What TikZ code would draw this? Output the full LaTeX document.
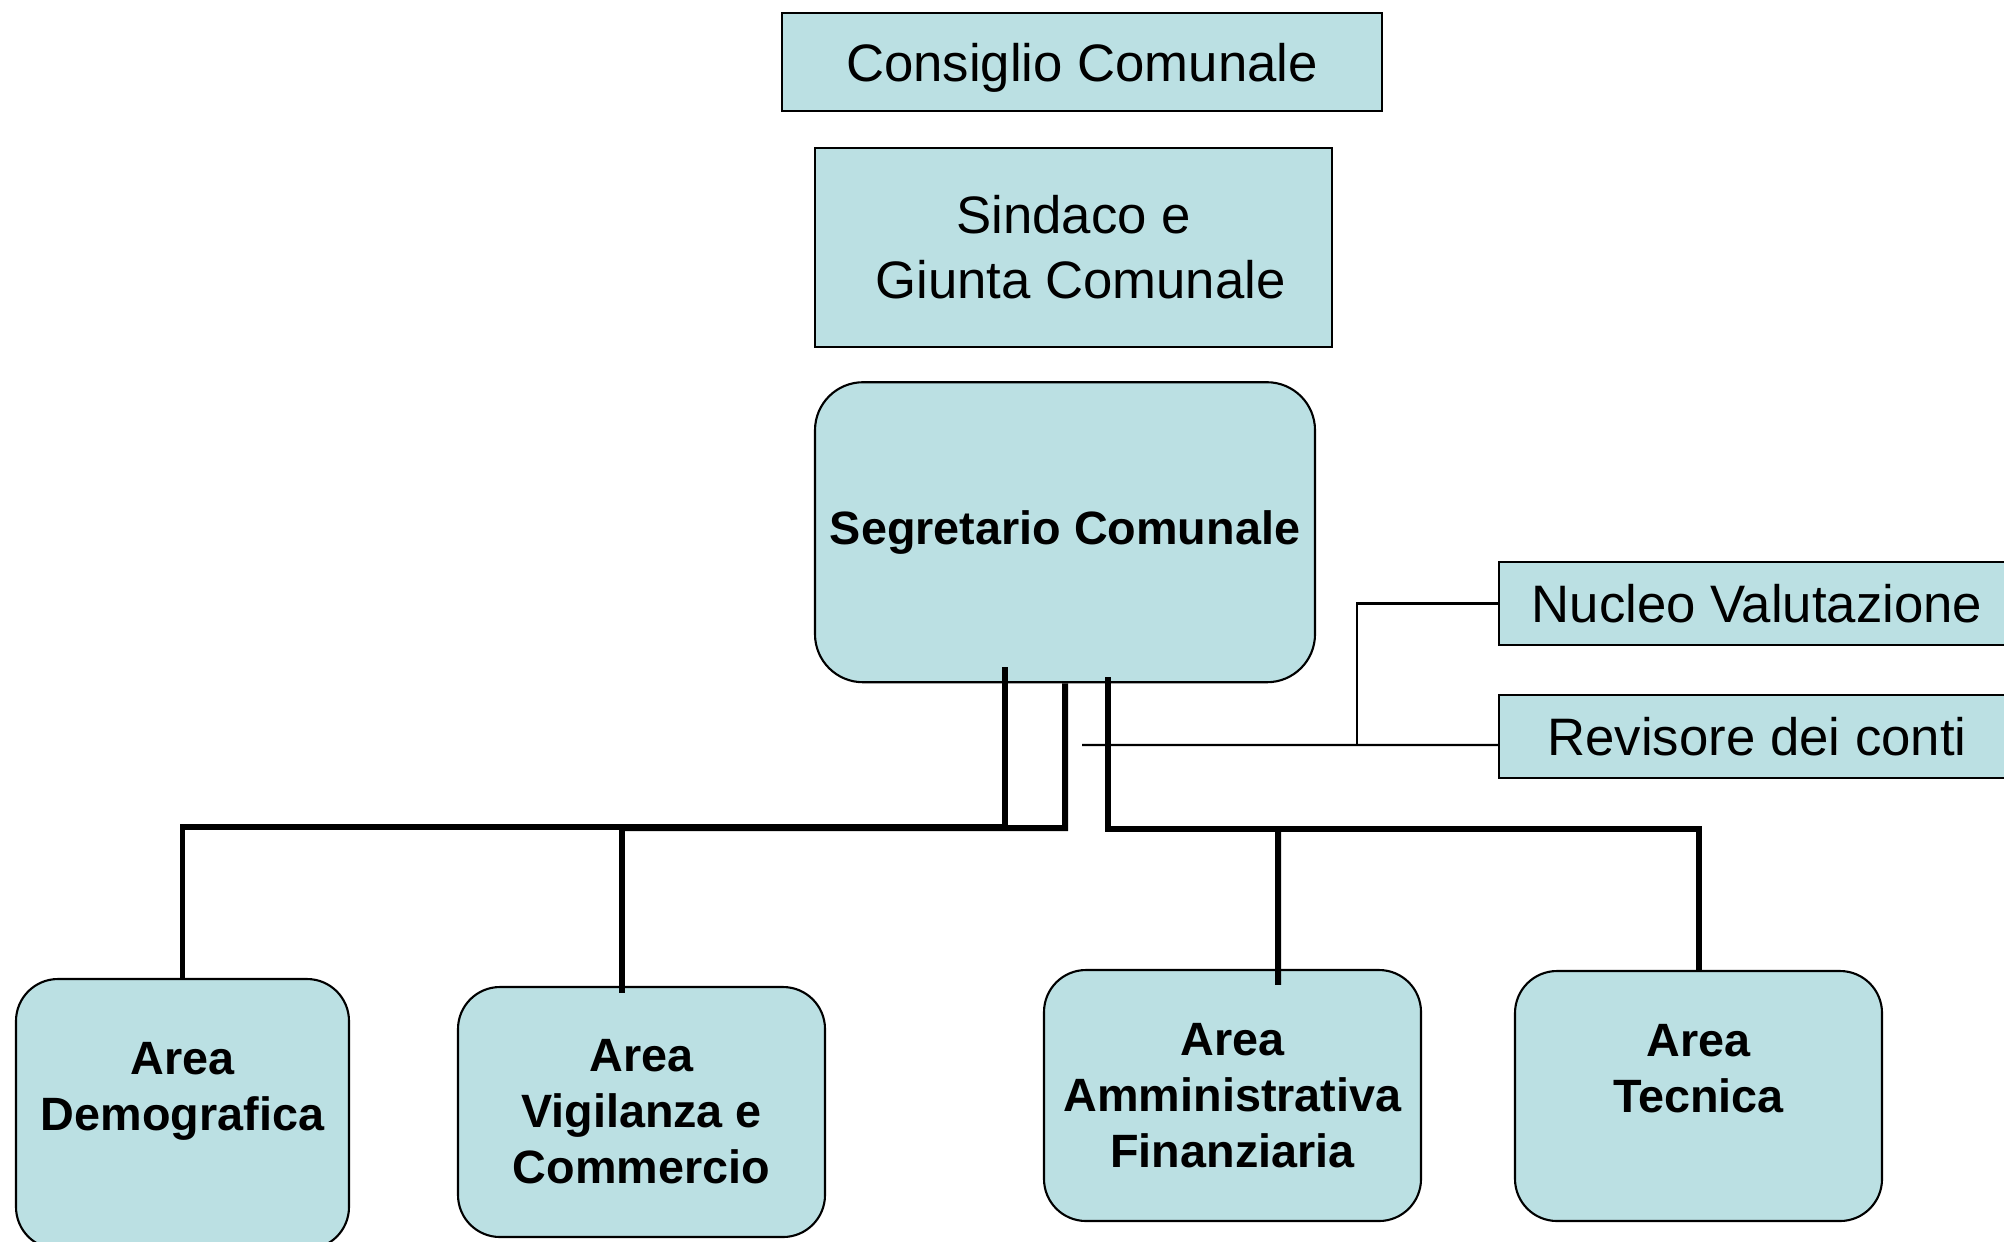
\documentclass[tikz,border=0pt]{standalone}
\usepackage{fontspec}
\setmainfont{Liberation Sans}
\usepackage{xcolor}
\usepackage{tikz}
\usetikzlibrary{positioning}
\definecolor{boxblue}{RGB}{187,224,227}
\tikzstyle{organ} = [rectangle, inner sep=0pt, align=center, draw=black, line width=0.6pt, fill=boxblue, font=\fontsize{15}{18.5}\selectfont]
\tikzstyle{office} = [rectangle, rounded corners=0.48cm, inner sep=0pt, align=center, draw=black, line width=0.6pt, fill=boxblue, font=\fontsize{13.3}{15.9}\selectfont\bfseries]
\tikzstyle{area} = [rectangle, rounded corners=0.42cm, inner sep=0pt, align=center, draw=black, line width=0.6pt, fill=boxblue, minimum height=2.5cm, font=\fontsize{13.3}{15.9}\selectfont\bfseries]
\tikzstyle{link} = [line width=1.7pt]
\tikzstyle{thinlink} = [line width=0.6pt]

\begin{document}
\begin{tikzpicture}
\useasboundingbox (0,0) rectangle (20.04,-12.41);
% Nodes
\node (cons) [organ, minimum width=6cm, minimum height=0.98cm, text height=0.38cm, text depth=0cm] at (10.82,-0.62) {Consiglio Comunale};
\node (sind) [organ, minimum width=5.17cm, minimum height=1.99cm, below=0.35cm of cons, xshift=-0.085cm] {Sindaco e\\\hspace*{0.14cm}Giunta Comunale};
\node (segr) [office, minimum width=5cm, minimum height=3cm, below=0.33cm of sind, xshift=-0.085cm] {Segretario Comunale};
\node (nuc) [organ, minimum width=5.16cm, minimum height=0.83cm] at (17.57,-6.035) {Nucleo Valutazione};
\node (rev) [organ, minimum width=5.16cm, minimum height=0.83cm] at (17.57,-7.365) {Revisore dei conti};
\node (dem) [area, minimum width=3.33cm, minimum height=2.7cm] at (1.825,-11.14) {Area\\Demografica\\~};
\node (vig) [area, minimum width=3.67cm] at (6.415,-11.12) {Area\\Vigilanza e\\Commercio};
\node (amm) [area, minimum width=3.77cm, minimum height=2.51cm] at (12.325,-10.955) {Area\\Amministrativa\\Finanziaria};
\node (tec) [area, minimum width=3.67cm] at (16.985,-10.96) {Area\\Tecnica\\~};
\coordinate (junc) at (13.57,-7.45);
\coordinate (free) at (10.82,-7.45);

% Paths
\draw [link] ([xshift=-0.6cm, yshift=0.16cm]segr.south) |- (1.825,-8.27) -- (dem.north);
\draw [link] (segr.south) |- (6.22,-8.28) -- ([xshift=-0.195cm, yshift=-0.07cm]vig.north);
\draw [link] ([xshift=0.43cm, yshift=0.06cm]segr.south) |- (16.985,-8.29) -- (tec.north);
\draw [link] (12.78,-8.28) -- ([xshift=0.455cm, yshift=-0.16cm]amm.north);
\draw [thinlink] (nuc.west) -| (junc);
\draw [thinlink] ([yshift=-0.085cm]rev.west) -- (junc) -- (free);

\end{tikzpicture}
\end{document}
